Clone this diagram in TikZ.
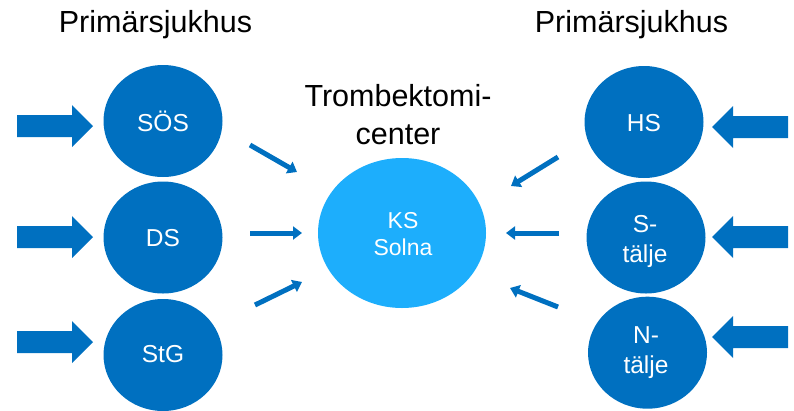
\documentclass[tikz,border=0pt]{standalone}
\usepackage{fontspec}
\setmainfont{Liberation Sans}
\usetikzlibrary{shapes.geometric,arrows.meta}
\definecolor{dblue}{RGB}{0,112,192}
\definecolor{lblue}{RGB}{29,174,252}
\tikzset{
  hosp/.style={ellipse, fill=dblue, inner sep=0pt, minimum width=119pt, minimum height=112pt},
  center/.style={ellipse, fill=lblue, inner sep=0pt, minimum width=168pt, minimum height=150pt},
  hlbl/.style={text=white, align=center, inner sep=0pt, font=\fontsize{24.5}{30}\selectfont},
  clbl/.style={text=white, align=center, inner sep=0pt, font=\fontsize{23}{27}\selectfont},
  title/.style={align=center, inner sep=0pt, font=\fontsize{30.5}{38}\selectfont},
  thin arrow/.style={draw=dblue, line width=5pt, -{Triangle[length=9pt,width=13pt]}},
  blockarrow/.pic={\fill[dblue] (-76,-11) -- (-21,-11) -- (-21,-21) -- (0,0) -- (-21,21) -- (-21,11) -- (-76,11) -- cycle;}
}
\begin{document}
\begin{tikzpicture}[x=1pt,y=-1pt]
\useasboundingbox (0,0) rectangle (794,410);
% titles
\node[title] (tl) at (155.5,25.1) {Primärsjukhus};
\node[title] (tr) at (631.5,25.1) {Primärsjukhus};
\node[title] (tc) at (398,115) {Trombektomi-\\center};
% left hospitals
\node[hosp] (sos) at (163,121) {};
\node[hosp] (ds) at (163,237.5) {};
\node[hosp] (stg) at (163,355) {};
\node[hlbl] (sosl) at (163,121) {SÖS};
\node[hlbl] (dsl) at (163,237.7) {DS};
\node[hlbl] (stgl) at (163,354) {StG};
% right hospitals
\node[hosp] (hs) at (644,122) {};
\node[hosp] (st) at (646,237.5) {};
\node[hosp] (nt) at (647.5,352.7) {};
\node[hlbl] (hsl) at (644,123) {HS};
\node[hlbl] (stl) at (645,241) {S-\\tälje};
\node[hlbl] (ntl) at (646,352.9) {N-\\tälje};
% center
\node[center] (ks) at (402,233) {};
\node[clbl] (ksl) at (403,234.2) {KS\\Solna};
% big arrows
\pic at (93,126) {blockarrow};
\pic at (93,237) {blockarrow};
\pic at (93,342) {blockarrow};
\pic[rotate=180] at (712,127) {blockarrow};
\pic[rotate=180] at (712,237) {blockarrow};
\pic[rotate=180] at (712,337) {blockarrow};
% small arrows
\coordinate (a1) at (250,145); \coordinate (b1) at (297,172);
\coordinate (a2) at (250,233); \coordinate (b2) at (302,233);
\coordinate (a3) at (255,305); \coordinate (b3) at (302,282);
\coordinate (a4) at (558,157); \coordinate (b4) at (511,186);
\coordinate (a5) at (559,233); \coordinate (b5) at (506,233);
\coordinate (a6) at (558,307); \coordinate (b6) at (510,288);
\draw[thin arrow] (a1) -- (b1);
\draw[thin arrow] (a2) -- (b2);
\draw[thin arrow] (a3) -- (b3);
\draw[thin arrow] (a4) -- (b4);
\draw[thin arrow] (a5) -- (b5);
\draw[thin arrow] (a6) -- (b6);
\end{tikzpicture}
\end{document}
